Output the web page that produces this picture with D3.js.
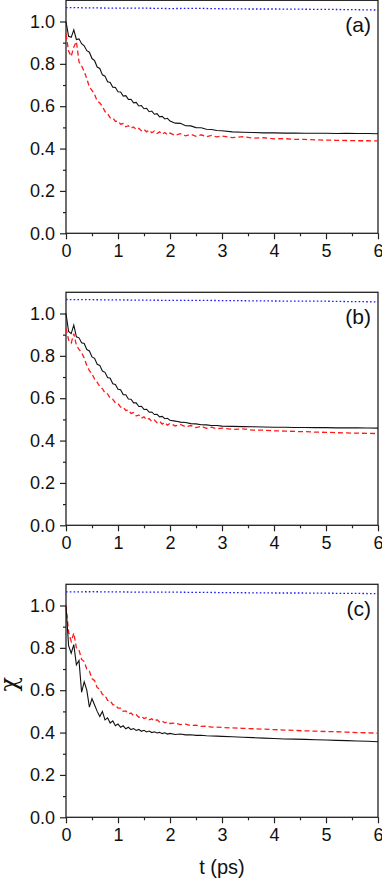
<!DOCTYPE html>
<html>
<head>
<meta charset="utf-8">
<script src="https://cdn.jsdelivr.net/npm/d3@7/dist/d3.min.js"></script>
<style>
  html, body { margin: 0; padding: 0; background: #fff; }
  svg { display: block; font-family: "Liberation Sans", Arial, sans-serif; }
  .axis text { font-size: 18px; fill: #111; }
  .axis path, .axis line { stroke: #222; stroke-width: 1.2; }
</style>
</head>
<body>
<svg id="chart" width="382" height="878"></svg>
<script>
// time grid shared by the black and red curves (ps)
const tGrid = [
  0, 0.05, 0.1, 0.15, 0.2, 0.25, 0.3, 0.35, 0.4, 0.45, 0.5, 0.55, 0.6, 0.65, 0.7, 0.75, 0.8, 0.85, 0.9, 0.95,
  1.0, 1.05, 1.1, 1.15, 1.2, 1.25, 1.3, 1.35, 1.4, 1.45, 1.5, 1.55, 1.6, 1.65, 1.7, 1.75, 1.8, 1.85, 1.9, 1.95, 2.0,
  2.1, 2.2, 2.3, 2.4, 2.5, 2.6, 2.7, 2.8, 2.9, 3.0,
  3.2, 3.4, 3.6, 3.8, 4.0, 4.2, 4.4, 4.6, 4.8, 5.0, 5.2, 5.4, 5.6, 5.8, 6.0
];
const blueT = [0, 0.5, 1, 1.5, 2, 2.5, 3, 3.5, 4, 4.5, 5, 5.5, 6];

// panel (a)
const blackA = [
  1.000, 0.930, 0.925, 0.960, 0.915, 0.918, 0.895, 0.885, 0.862, 0.855, 0.825, 0.815, 0.785, 0.778, 0.748, 0.742, 0.715, 0.712, 0.690, 0.688,
  0.668, 0.667, 0.648, 0.650, 0.632, 0.633, 0.616, 0.618, 0.601, 0.603, 0.588, 0.590, 0.574, 0.577, 0.562, 0.565, 0.550, 0.552, 0.540, 0.543, 0.530,
  0.520, 0.519, 0.508, 0.507, 0.499, 0.498, 0.491, 0.490, 0.485, 0.484,
  0.479, 0.477, 0.476, 0.474, 0.474, 0.473, 0.473, 0.472, 0.472, 0.472, 0.471, 0.472, 0.471, 0.471, 0.470
];
const redA = [
  0.940, 0.860, 0.835, 0.880, 0.905, 0.810, 0.790, 0.765, 0.730, 0.690, 0.675, 0.655, 0.625, 0.615, 0.600, 0.575, 0.565, 0.545, 0.545, 0.528,
  0.530, 0.515, 0.518, 0.503, 0.508, 0.496, 0.502, 0.490, 0.496, 0.484, 0.491, 0.479, 0.487, 0.475, 0.483, 0.471, 0.479, 0.468, 0.476, 0.465, 0.473,
  0.462, 0.470, 0.460, 0.467, 0.458, 0.465, 0.456, 0.462, 0.455, 0.459,
  0.452, 0.456, 0.449, 0.451, 0.446, 0.447, 0.443, 0.443, 0.441, 0.440, 0.439, 0.438, 0.437, 0.437, 0.436
];
const blueA = [1.066, 1.064, 1.063, 1.063, 1.061, 1.062, 1.060, 1.059, 1.059, 1.058, 1.057, 1.056, 1.054];

// panel (b)
const blackB = [
  1.000, 0.915, 0.905, 0.945, 0.890, 0.885, 0.862, 0.858, 0.830, 0.823, 0.795, 0.788, 0.760, 0.755, 0.728, 0.722, 0.698, 0.694, 0.668, 0.665,
  0.642, 0.640, 0.617, 0.616, 0.596, 0.595, 0.578, 0.578, 0.561, 0.562, 0.547, 0.548, 0.534, 0.535, 0.523, 0.524, 0.512, 0.514, 0.503, 0.505, 0.496,
  0.492, 0.487, 0.485, 0.480, 0.479, 0.475, 0.474, 0.471, 0.471, 0.468,
  0.467, 0.466, 0.465, 0.464, 0.463, 0.463, 0.462, 0.462, 0.461, 0.461, 0.460, 0.460, 0.460, 0.459, 0.459
];
const redB = [
  0.930, 0.875, 0.860, 0.905, 0.850, 0.830, 0.815, 0.790, 0.755, 0.730, 0.715, 0.690, 0.675, 0.655, 0.645, 0.625, 0.620, 0.600, 0.595, 0.578,
  0.575, 0.558, 0.558, 0.542, 0.544, 0.528, 0.532, 0.516, 0.521, 0.506, 0.512, 0.498, 0.504, 0.490, 0.497, 0.484, 0.491, 0.478, 0.486, 0.473, 0.481,
  0.469, 0.476, 0.465, 0.471, 0.461, 0.467, 0.458, 0.463, 0.456, 0.459,
  0.453, 0.455, 0.449, 0.449, 0.446, 0.445, 0.443, 0.442, 0.440, 0.439, 0.437, 0.436, 0.435, 0.434, 0.433
];
const blueB = [1.066, 1.065, 1.064, 1.063, 1.062, 1.062, 1.061, 1.060, 1.059, 1.058, 1.058, 1.056, 1.055];

// panel (c)
const blackC = [
  1.000, 0.810, 0.775, 0.815, 0.720, 0.740, 0.590, 0.640, 0.600, 0.520, 0.560, 0.530, 0.500, 0.476, 0.500, 0.460, 0.470, 0.445, 0.455, 0.432,
  0.440, 0.425, 0.432, 0.418, 0.425, 0.414, 0.419, 0.410, 0.415, 0.406, 0.411, 0.403, 0.407, 0.400, 0.404, 0.398, 0.401, 0.395, 0.399, 0.393, 0.396,
  0.391, 0.393, 0.389, 0.390, 0.387, 0.387, 0.385, 0.384, 0.383, 0.382,
  0.380, 0.378, 0.376, 0.374, 0.372, 0.370, 0.369, 0.368, 0.366, 0.365, 0.363, 0.362, 0.360, 0.359, 0.357
];
const redC = [
  1.000, 0.875, 0.830, 0.870, 0.800, 0.790, 0.745, 0.735, 0.700, 0.690, 0.655, 0.645, 0.612, 0.605, 0.580, 0.575, 0.552, 0.550, 0.532, 0.530,
  0.515, 0.515, 0.500, 0.502, 0.489, 0.492, 0.480, 0.484, 0.472, 0.477, 0.466, 0.471, 0.460, 0.465, 0.455, 0.460, 0.450, 0.455, 0.446, 0.451, 0.443,
  0.445, 0.438, 0.440, 0.433, 0.435, 0.429, 0.430, 0.426, 0.426, 0.424,
  0.422, 0.420, 0.418, 0.416, 0.414, 0.412, 0.410, 0.408, 0.407, 0.405, 0.404, 0.402, 0.400, 0.399, 0.397
];
const blueC = [1.064, 1.065, 1.064, 1.063, 1.063, 1.062, 1.061, 1.060, 1.059, 1.059, 1.058, 1.057, 1.056];

const panelLabels = ["(a)", "(b)", "(c)"];
const xTicks = [0, 1, 2, 3, 4, 5, 6];
const yTicks = [0.0, 0.2, 0.4, 0.6, 0.8, 1.0];

const panels = [
  { label: panelLabels[0], black: blackA, red: redA, blue: blueA },
  { label: panelLabels[1], black: blackB, red: redB, blue: blueB },
  { label: panelLabels[2], black: blackC, red: redC, blue: blueC }
];

const svg = d3.select("#chart");
const left = 66, plotW = 312, plotH = 233, step = 292, top0 = 0.3;

const x = d3.scaleLinear().domain([0, 6]).range([left, left + plotW]);

panels.forEach((p, i) => {
  const top = top0 + i * step;
  const y = d3.scaleLinear().domain([0, 1.1]).range([top + plotH, top]);
  const g = svg.append("g");

  // minor ticks
  g.append("g")
    .attr("class", "axis")
    .attr("transform", `translate(0,${top + plotH})`)
    .call(d3.axisBottom(x).tickValues(d3.range(0.5, 6, 1)).tickSize(3).tickFormat(""))
    .call(a => a.select(".domain").remove());
  g.append("g")
    .attr("class", "axis")
    .attr("transform", `translate(${left},0)`)
    .call(d3.axisLeft(y).tickValues([0.1, 0.3, 0.5, 0.7, 0.9]).tickSize(3).tickFormat(""))
    .call(a => a.select(".domain").remove());

  // major axes
  const xa = g.append("g")
    .attr("class", "axis")
    .attr("transform", `translate(0,${top + plotH})`)
    .call(d3.axisBottom(x).tickValues(xTicks).tickSize(6).tickSizeOuter(0).tickPadding(5).tickFormat(d3.format("d")));
  xa.select(".domain").remove();

  const ya = g.append("g")
    .attr("class", "axis")
    .attr("transform", `translate(${left},0)`)
    .call(d3.axisLeft(y).tickValues(yTicks).tickSize(6).tickSizeOuter(0).tickPadding(5).tickFormat(d3.format(".1f")));
  ya.select(".domain").remove();

  // frame
  g.append("rect")
    .attr("x", left)
    .attr("y", top)
    .attr("width", plotW)
    .attr("height", plotH)
    .attr("fill", "none")
    .attr("stroke", "#222")
    .attr("stroke-width", 1.3);

  const line = d3.line().x(d => x(d[0])).y(d => y(d[1]));

  g.append("path")
    .datum(blueT.map((t, k) => [t, p.blue[k]]))
    .attr("d", line)
    .attr("fill", "none")
    .attr("stroke", "#1a1aff")
    .attr("stroke-width", 1.3)
    .attr("stroke-dasharray", "1.6,2.2");

  g.append("path")
    .datum(tGrid.map((t, k) => [t, p.red[k]]))
    .attr("d", line)
    .attr("fill", "none")
    .attr("stroke", "#ff1a1a")
    .attr("stroke-width", 1.3)
    .attr("stroke-dasharray", "5,3");

  g.append("path")
    .datum(tGrid.map((t, k) => [t, p.black[k]]))
    .attr("d", line)
    .attr("fill", "none")
    .attr("stroke", "#111")
    .attr("stroke-width", 1.1);

  g.append("text")
    .attr("x", 371)
    .attr("y", top + 32)
    .attr("text-anchor", "end")
    .attr("font-size", "21px")
    .attr("fill", "#111")
    .text(p.label);
});

// axis titles
svg.append("text")
  .attr("transform", `translate(17,${top0 + 2 * step + 100}) rotate(-90)`)
  .attr("text-anchor", "middle")
  .attr("font-family", "'DejaVu Serif', 'DejaVu Sans', serif")
  .attr("font-size", "24px")
  .attr("fill", "#111")
  .text("χ");

svg.append("text")
  .attr("x", 222)
  .attr("y", 874)
  .attr("text-anchor", "middle")
  .attr("font-size", "20px")
  .attr("fill", "#111")
  .text("t (ps)");
</script>
</body>
</html>
